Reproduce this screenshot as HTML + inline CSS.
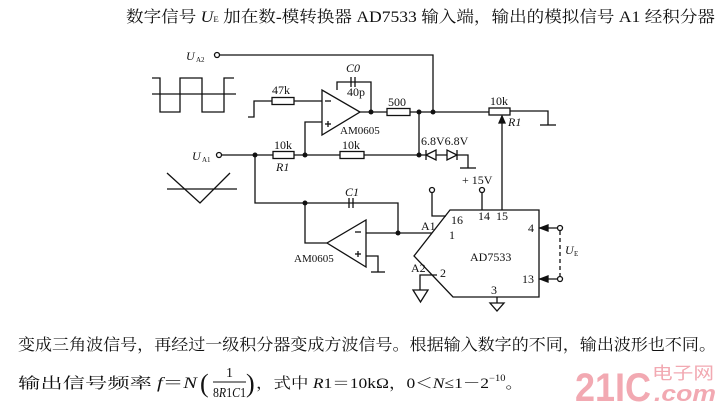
<!DOCTYPE html>
<html><head><meta charset="utf-8"><style>
html,body{margin:0;padding:0;background:#fff;}
svg{display:block;}
text{font-family:"Liberation Serif","Noto Serif CJK SC",serif;fill:#111;}
text.wm{fill:#f2a9b2;font-family:"Liberation Sans","Noto Sans CJK SC",sans-serif;}
</style></head><body>
<svg width="719" height="411" viewBox="0 0 719 411" xmlns="http://www.w3.org/2000/svg">
<g stroke="#111" stroke-width="1.3" fill="none">
<circle cx="217" cy="55" r="2.5"/>
<polyline points="220,55 433,55 433,112"/>
<polyline points="152,78 160,78 160,112 180,112 180,78 202,78 202,112 224,112 224,78 234,78"/>
<line x1="152" y1="94" x2="236" y2="94"/>
<polyline points="167,173 200,203 230,173"/>
<line x1="167" y1="189" x2="237" y2="189"/>
<polyline points="248,117 254,117 254,101 272,101"/>
<rect x="272" y="97.5" width="22" height="7"/>
<line x1="294" y1="101" x2="322" y2="101"/>
<polygon points="322,90 322,135 360,112"/>
<line x1="325" y1="101" x2="331" y2="101"/>
<line x1="325" y1="124" x2="331" y2="124"/><line x1="328" y1="121" x2="328" y2="127"/>
<polyline points="337,90 337,82 371,82 371,112"/>
<line x1="351" y1="77" x2="351" y2="87"/><line x1="355" y1="77" x2="355" y2="87"/>
<line x1="360" y1="112" x2="387" y2="112"/>
<rect x="387" y="108.5" width="23" height="7"/>
<line x1="410" y1="112" x2="489" y2="112"/>
<rect x="489" y="108" width="21" height="7"/>
<polyline points="510,111 548,111 548,125"/>
<line x1="540" y1="125" x2="556" y2="125"/>
<line x1="502" y1="118" x2="502" y2="210"/>
<polygon points="502,116 499,123 505,123" fill="#111"/>
<line x1="419" y1="112" x2="419" y2="155"/>
<polyline points="419,155 468,155 468,168"/>
<line x1="460" y1="168" x2="476" y2="168"/>
<polygon points="426,155 436,150 436,160" fill="#fff"/><line x1="426" y1="150" x2="426" y2="160"/>
<polygon points="447,150 447,160 457,155" fill="#fff"/><line x1="457" y1="150" x2="457" y2="160"/>
<circle cx="219" cy="155" r="2.5"/>
<line x1="222" y1="155" x2="273" y2="155"/>
<rect x="273" y="151.5" width="21" height="7"/>
<line x1="294" y1="155" x2="340" y2="155"/>
<rect x="340" y="151.5" width="24" height="7"/>
<line x1="364" y1="155" x2="419" y2="155"/>
<polyline points="305,155 305,122 322,122"/>
<polyline points="255,155 255,203 398,203 398,233"/>
<line x1="349" y1="198" x2="349" y2="208"/><line x1="353" y1="198" x2="353" y2="208"/>
<polyline points="305,203 305,243 327,243"/>
<polygon points="366,220 366,267 327,243"/>
<line x1="355" y1="232" x2="361" y2="232"/>
<line x1="355" y1="254" x2="361" y2="254"/><line x1="358" y1="251" x2="358" y2="257"/>
<line x1="366" y1="233" x2="432" y2="233"/>
<polyline points="366,256 378,256 378,272"/>
<line x1="371" y1="272" x2="385" y2="272"/>
<polygon points="450,210 539,210 539,297 453,297 414,256"/>
<circle cx="432" cy="190" r="2.5"/>
<polyline points="432,193 432,216 446,216"/>
<circle cx="482" cy="190" r="2.5"/>
<line x1="482" y1="193" x2="482" y2="210"/>
<polyline points="437,275 420,275 420,290"/>
<polygon points="413,290 428,290 420.5,302"/>
<line x1="497" y1="297" x2="497" y2="303"/>
<polygon points="490,303 504,303 497,311"/>
<line x1="539" y1="228" x2="558" y2="228"/>
<line x1="539" y1="279" x2="558" y2="279"/>
<polygon points="540,228 548,225 548,231" fill="#111"/>
<polygon points="540,279 548,276 548,282" fill="#111"/>
<circle cx="560" cy="228" r="2.5"/><circle cx="560" cy="279" r="2.5"/>
<line x1="560" y1="231" x2="560" y2="276" stroke-dasharray="4,3"/>
<line x1="213" y1="382" x2="246" y2="382" stroke-width="1"/>
</g>
<g fill="#111">
<circle cx="371" cy="112" r="2.5"/><circle cx="419" cy="112" r="2.5"/><circle cx="433" cy="112" r="2.5"/>
<circle cx="255" cy="155" r="2.5"/><circle cx="305" cy="155" r="2.5"/><circle cx="419" cy="155" r="2.5"/>
<circle cx="305" cy="203" r="2.5"/><circle cx="398" cy="233" r="2.5"/>
</g>
<g font-size="12">
<text x="186" y="60" font-style="italic">U</text><text x="196" y="62" font-size="7">A2</text>
<text x="192" y="160" font-style="italic">U</text><text x="202" y="162" font-size="7">A1</text>
<text x="346" y="72" font-style="italic">C0</text>
<text x="347" y="96">40p</text>
<text x="272" y="94">47k</text>
<text x="340" y="134" font-size="11">AM0605</text>
<text x="388" y="106">500</text>
<text x="490" y="105">10k</text>
<text x="508" y="126" font-style="italic">R1</text>
<text x="421" y="145">6.8V6.8V</text>
<text x="462" y="184">+ 15V</text>
<text x="274" y="149">10k</text>
<text x="276" y="171" font-style="italic">R1</text>
<text x="342" y="149">10k</text>
<text x="345" y="196" font-style="italic">C1</text>
<text x="294" y="262" font-size="11">AM0605</text>
<text x="421" y="230">A1</text>
<text x="451" y="224">16</text>
<text x="449" y="239">1</text>
<text x="478" y="220">14</text>
<text x="496" y="220">15</text>
<text x="470" y="261">AD7533</text>
<text x="411" y="272">A2</text>
<text x="440" y="277">2</text>
<text x="491" y="294">3</text>
<text x="528" y="232">4</text>
<text x="522" y="283">13</text>
<text x="565" y="254" font-style="italic">U</text><text x="574" y="256" font-size="7">E</text>
</g>
<text x="126" y="22" font-size="16" textLength="589" lengthAdjust="spacingAndGlyphs">数字信号 <tspan font-style="italic">U</tspan><tspan font-size="8">E</tspan> 加在数-模转换器 AD7533 输入端，输出的模拟信号 A1 经积分器</text>
<text x="18" y="350" font-size="16" textLength="698" lengthAdjust="spacingAndGlyphs">变成三角波信号，再经过一级积分器变成方波信号。根据输入数字的不同，输出波形也不同。</text>
<text x="18" y="388" font-size="15" textLength="134" lengthAdjust="spacingAndGlyphs">输出信号频率</text>
<text x="157" y="388" font-size="16" textLength="40" lengthAdjust="spacingAndGlyphs"><tspan font-style="italic">f</tspan>＝<tspan font-style="italic">N</tspan></text>
<text x="200" y="392" font-size="26">(</text>
<text x="226" y="377" font-size="14">1</text>
<text x="213" y="397" font-size="14" textLength="33" lengthAdjust="spacingAndGlyphs">8<tspan font-style="italic">R</tspan>1<tspan font-style="italic">C</tspan>1</text>
<text x="246" y="392" font-size="26">)</text>
<text x="256" y="388" font-size="15" textLength="267" lengthAdjust="spacingAndGlyphs">，式中 <tspan font-style="italic">R</tspan>1＝10kΩ，0＜<tspan font-style="italic">N</tspan>≤1－2<tspan font-size="9" dy="-7">−10</tspan><tspan dy="7">。</tspan></text>
<text class="wm" x="575" y="401" font-size="40" font-weight="bold" textLength="76" lengthAdjust="spacingAndGlyphs">21IC</text>
<text class="wm" x="652" y="379" font-size="17" textLength="62" lengthAdjust="spacingAndGlyphs">电子网</text>
<text class="wm" x="654" y="401" font-size="22" font-style="italic" font-weight="bold" textLength="62" lengthAdjust="spacingAndGlyphs">.com</text>
</svg>
</body></html>
